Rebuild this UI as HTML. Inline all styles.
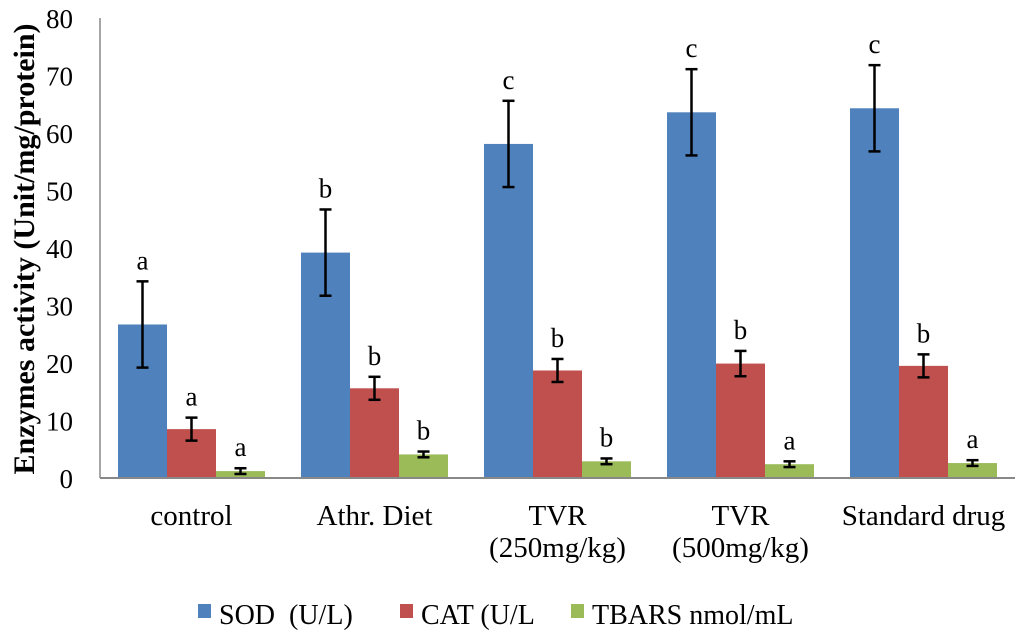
<!DOCTYPE html>
<html><head><meta charset="utf-8"><style>
body{margin:0;background:#fff}
svg text{font-family:"Liberation Serif",serif;fill:#000}
</style></head><body>
<svg id="c" width="1024" height="637"></svg>
<script>
const categories=[["control"],["Athr. Diet"],["TVR","(250mg/kg)"],["TVR","(500mg/kg)"],["Standard drug"]];
const seriesNames=["SOD  (U/L)","CAT (U/L","TBARS nmol/mL"];
const colors=["#4f81bd","#c0504d","#9bbb59"];
const sod=[26.7,39.2,58.1,63.6,64.3];
const cat=[8.5,15.6,18.7,19.9,19.5];
const tbars=[1.2,4.1,2.9,2.4,2.6];
const sodErr=[7.5,7.5,7.5,7.5,7.5];
const catErr=[2.0,2.0,2.0,2.2,2.0];
const tbarsErr=[0.5,0.5,0.5,0.5,0.5];
const sodLet=["a","b","c","c","c"];
const catLet=["a","b","b","b","b"];
const tbarsLet=["a","b","b","a","a"];
const yTicks=[0,10,20,30,40,50,60,70,80];
const NS="http://www.w3.org/2000/svg";
const svg=document.getElementById('c');
const x0=100,x1=1015,yb=478,yt=18;
const gw=(x1-x0)/categories.length,bw=49;
const y=v=>yb-(v/80)*(yb-yt);
function mk(t,a,p){const e=document.createElementNS(NS,t);for(const k in a)e.setAttribute(k,a[k]);(p||svg).appendChild(e);return e;}
let ax=mk('line',{x1:x0,y1:yt,x2:x0,y2:yb,stroke:'#888','stroke-width':1.5});


yTicks.forEach(t=>{
 const tx=mk('text',{x:x0-27,y:y(t)+10,'text-anchor':'end','font-size':27});
 tx.textContent=t;
 
 
});
const ti=mk('text',{transform:'translate(34,249) rotate(-90)','text-anchor':'middle','font-size':30,'font-weight':'bold'});
ti.textContent='Enzymes activity (Unit/mg/protein)';


const data=[sod,cat,tbars],errs=[sodErr,catErr,tbarsErr],lets=[sodLet,catLet,tbarsLet];
categories.forEach((c,i)=>{
 const gx=x0+i*gw+(gw-3*bw)/2;
 data.forEach((s,j)=>{
  const bx=gx+j*bw,v=s[i],e=errs[j][i];
  const r=mk('rect',{x:bx,y:y(v),width:bw,height:yb-y(v),fill:colors[j]});
  
  
  const cx=bx+bw/2;
  const g=mk('g',{stroke:'#000','stroke-width':2.5});
  
  
  mk('line',{x1:cx,y1:y(v+e),x2:cx,y2:y(v-e)},g);
  mk('line',{x1:cx-6,y1:y(v+e),x2:cx+6,y2:y(v+e)},g);
  mk('line',{x1:cx-6,y1:y(v-e),x2:cx+6,y2:y(v-e)},g);
  const lt=mk('text',{x:cx,y:y(v+e)-12,'text-anchor':'middle','font-size':27});
  lt.textContent=lets[j][i];
  
  
 });
 c.forEach((line,k)=>{
  const t=mk('text',{x:x0+i*gw+gw/2,y:525+k*32,'text-anchor':'middle','font-size':29});
  t.textContent=line;
  
  
 });
});
const xa=mk('line',{x1:x0,y1:yb,x2:x1,y2:yb,stroke:'#888','stroke-width':2});


const lx=[198,400,571];
seriesNames.forEach((n,j)=>{
 const r=mk('rect',{x:lx[j],y:604,width:13,height:14,fill:colors[j]});
 
 
 const t=mk('text',{x:lx[j]+21,y:624,'font-size':28});
 t.textContent=n;
 t.setAttribute('style','white-space:pre');
 
 
});
</script>
</body></html>
